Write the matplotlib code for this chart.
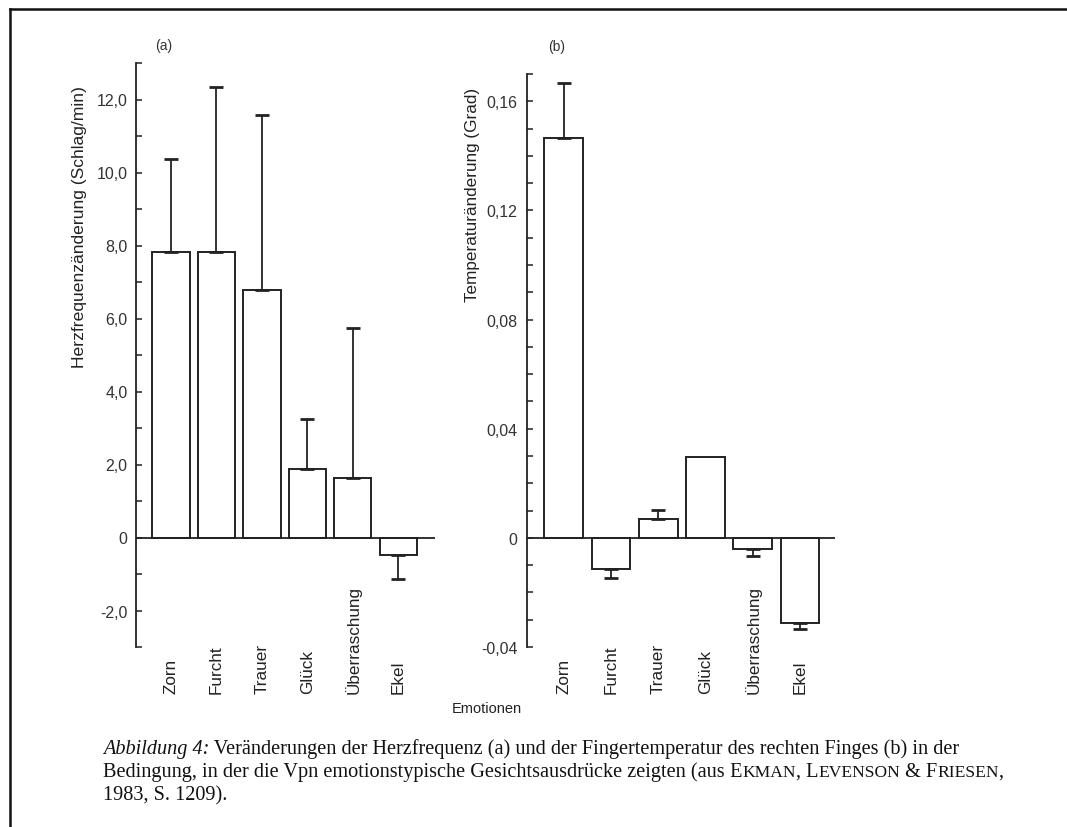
import matplotlib
matplotlib.use('Agg')
import matplotlib.pyplot as plt
from matplotlib.lines import Line2D
from matplotlib.ticker import MultipleLocator, FuncFormatter

emotionen = ['Zorn', 'Furcht', 'Trauer', 'Glück', 'Überraschung', 'Ekel']

# (a) Herzfrequenz
herz_mittel = [7.83, 7.83, 6.79, 1.87, 1.62, -0.47]
herz_fehler = [2.55, 4.50, 4.78, 1.37, 4.12, 0.66]

# (b) Fingertemperatur
temp_mittel = [0.1466, -0.0114, 0.0070, 0.0297, -0.0040, -0.0312]
temp_fehler = [0.0202, 0.0033, 0.0033, 0.0, 0.0026, 0.0022]

plt.rcParams['font.family'] = 'Liberation Sans'
farbe = '#222222'

fig = plt.figure(figsize=(10.67, 8.28), dpi=100)
W, H = 1067, 828

def px_ax(x0, x1, ytop, ybot):
    return fig.add_axes([x0 / W, 1 - ybot / H, (x1 - x0) / W, (ybot - ytop) / H])

ax_a = px_ax(136, 435, 64, 648)
ax_b = px_ax(527, 835, 75, 648)


def balken(ax, mittel, fehler, ylim, major, minor, fmt, xlim, pad_y):
    x = list(range(len(mittel)))
    ax.bar(x, mittel, width=0.82, facecolor='white', edgecolor=farbe, linewidth=1.4, zorder=2)
    # einseitige Fehlerbalken
    for i, (m, e) in enumerate(zip(mittel, fehler)):
        if e <= 0:
            continue
        if m >= 0:
            yerr = [[0], [e]]
        else:
            yerr = [[e], [0]]
        ax.errorbar([i], [m], yerr=yerr, fmt='none', ecolor=farbe, elinewidth=1.3,
                    capsize=5, capthick=2.0, zorder=3)
    ax.axhline(0, color=farbe, linewidth=1.3, zorder=4)
    ax.set_ylim(*ylim)
    ax.set_xlim(*xlim)
    for s in ['top', 'right', 'bottom']:
        ax.spines[s].set_visible(False)
    ax.spines['left'].set_color(farbe)
    ax.spines['left'].set_linewidth(1.3)
    ax.yaxis.set_major_locator(MultipleLocator(major))
    ax.yaxis.set_minor_locator(MultipleLocator(minor))
    ax.yaxis.set_major_formatter(FuncFormatter(fmt))
    ax.tick_params(axis='y', which='both', direction='in', length=4, width=1.1,
                   color=farbe, labelsize=11.5, pad=pad_y, labelcolor='#333333')
    ax.set_xticks(x)
    ax.set_xticklabels(emotionen, rotation=90, va='bottom', ha='center', fontsize=12.3,
                       color='#222222')
    ax.tick_params(axis='x', length=0, pad=33)
    ax.set_facecolor('none')


def fmt_a(v, pos):
    if abs(v) < 1e-9:
        return '0'
    return ('%.1f' % v).replace('.', ',')


def fmt_b(v, pos):
    if abs(v) < 1e-9:
        return '0'
    return ('%.2f' % v).replace('.', ',')


balken(ax_a, herz_mittel, herz_fehler, (-3, 13), 2, 1, fmt_a, (-0.77, 5.81), 6)
balken(ax_b, temp_mittel, temp_fehler, (-0.04, 0.17), 0.04, 0.01, fmt_b, (-0.78, 5.74), 7)

fig.text(80 / W, 1 - 227 / H, 'Herzfrequenzänderung (Schlag/min)', rotation=90,
         ha='center', va='center', fontsize=12.6, color='#222222')
fig.text(472 / W, 1 - 195 / H, 'Temperaturänderung (Grad)', rotation=90,
         ha='center', va='center', fontsize=12.3, color='#222222')
fig.text(164 / W, 1 - 46 / H, '(a)', ha='center', va='center', fontsize=10, color='#333333')
fig.text(557 / W, 1 - 47 / H, '(b)', ha='center', va='center', fontsize=10, color='#333333')
fig.text(487 / W, 1 - 709 / H, 'Emotionen', ha='center', va='center', fontsize=10.5,
         color='#222222')

# Bildunterschrift
gross, klein = 14.6, 12.6
zeilen = [
    (754, [('Abbildung 4:', gross, 'italic'),
           (' Veränderungen der Herzfrequenz (a) und der Fingertemperatur des rechten Finges (b) in der', gross, 'normal')]),
    (777, [('Bedingung, in der die Vpn emotionstypische Gesichtsausdrücke zeigten (aus', gross, 'normal'),
           (' E', gross, 'normal'), ('KMAN', klein, 'normal'), (', L', gross, 'normal'),
           ('EVENSON', klein, 'normal'), (' & F', gross, 'normal'), ('RIESEN', klein, 'normal'),
           (',', gross, 'normal')]),
    (800, [('1983, S. 1209).', gross, 'normal')]),
]
renderer = fig.canvas.get_renderer()
for ypx, teile in zeilen:
    xpos = 103 / W
    for txt, size, stil in teile:
        t = fig.text(xpos, 1 - ypx / H, txt, fontsize=size, style=stil,
                     family='Liberation Serif', va='baseline', ha='left', color='#111111')
        bb = t.get_window_extent(renderer)
        xpos += bb.width / fig.bbox.width

# Rahmen
fig.add_artist(Line2D([10 / W, 1], [1 - 10 / H, 1 - 10 / H], transform=fig.transFigure,
                      color='#111111', linewidth=1.8))
fig.add_artist(Line2D([10 / W, 10 / W], [0, 1 - 10 / H], transform=fig.transFigure,
                      color='#111111', linewidth=1.8))

fig.savefig('out.png', dpi=100)
